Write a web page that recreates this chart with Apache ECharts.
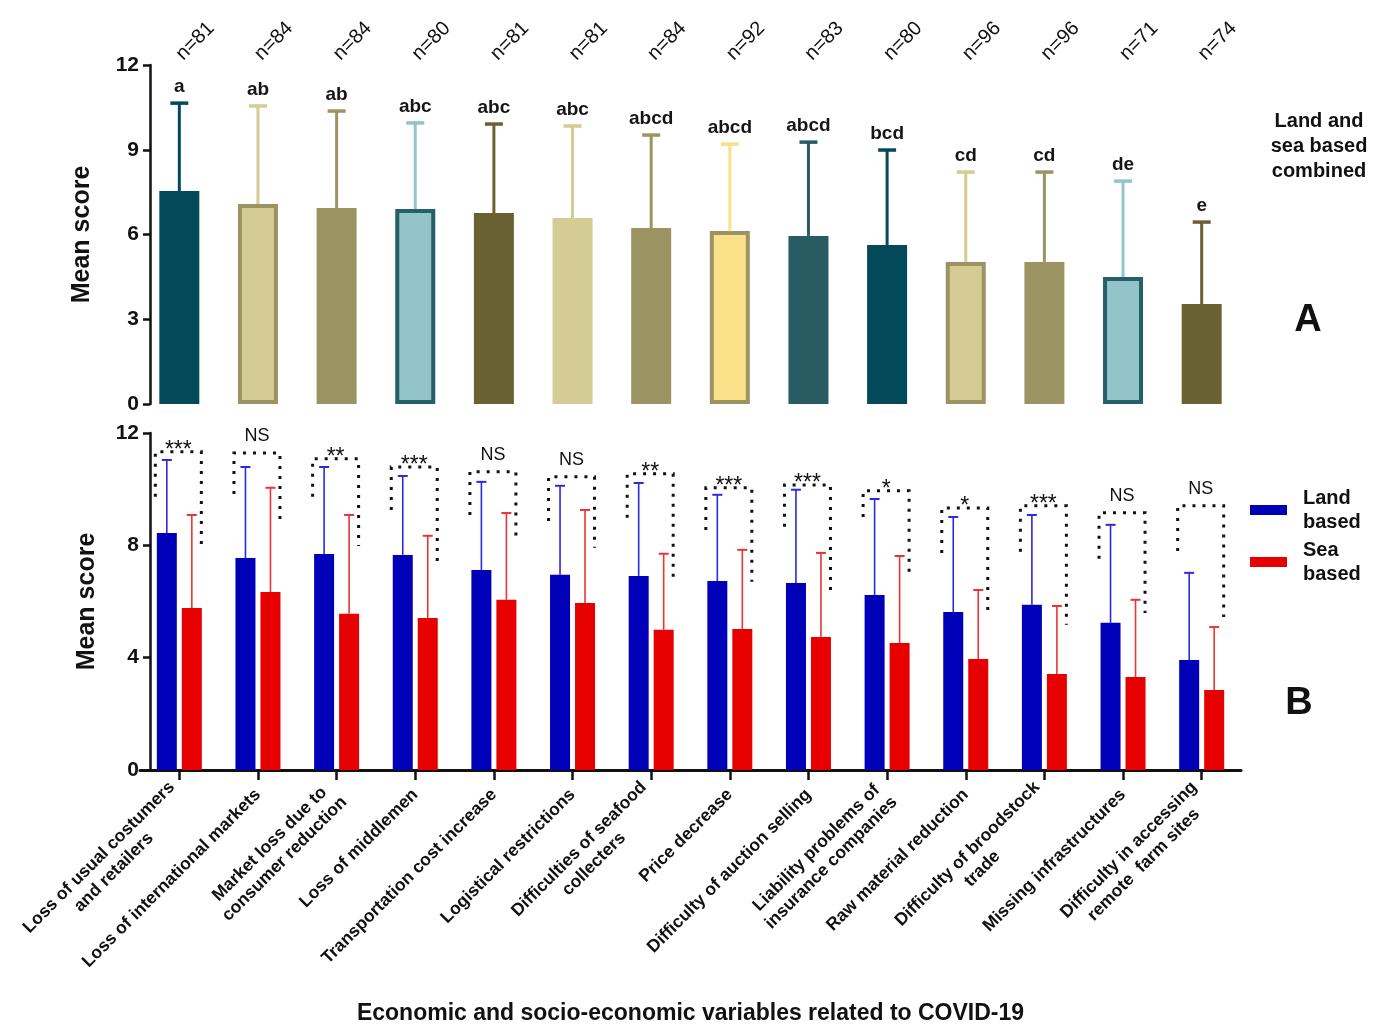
<!DOCTYPE html>
<html><head><meta charset="utf-8">
<script src="https://cdn.jsdelivr.net/npm/echarts@6/dist/echarts.min.js"></script>
<style>html,body{margin:0;padding:0;background:#fff}#c{width:1378px;height:1027px}</style>
</head><body><div id="c"></div>
<script>
// ---------- DATA ----------
const categories = [
  'Loss of usual costumers\nand retailers',
  'Loss of international markets',
  'Market loss due to\nconsumer reduction',
  'Loss of middlemen',
  'Transportation cost increase',
  'Logistical restrictions',
  'Difficulties of seafood\ncollecters',
  'Price decrease',
  'Difficulty of auction selling',
  'Liability problems of\ninsurance companies',
  'Raw material reduction',
  'Difficulty of broodstock\ntrade',
  'Missing infrastructures',
  'Difficulty in accessing\nremote  farm sites'
];
const nSizes = [81, 84, 84, 80, 81, 81, 84, 92, 83, 80, 96, 96, 71, 74];
const combinedMean = [7.54, 7.08, 6.94, 6.90, 6.76, 6.58, 6.23, 6.12, 5.95, 5.63, 5.03, 5.03, 4.50, 3.54];
const combinedUpper = [10.65, 10.55, 10.37, 9.95, 9.91, 9.84, 9.52, 9.20, 9.27, 8.99, 8.21, 8.21, 7.89, 6.44];
const combinedLetters = ['a', 'ab', 'ab', 'abc', 'abc', 'abc', 'abcd', 'abcd', 'abcd', 'bcd', 'cd', 'cd', 'de', 'e'];
const landMean = [8.44, 7.55, 7.69, 7.66, 7.12, 6.95, 6.91, 6.73, 6.66, 6.23, 5.63, 5.88, 5.24, 3.92];
const landUpper = [11.04, 10.79, 10.79, 10.47, 10.26, 10.12, 10.22, 9.80, 9.98, 9.65, 9.01, 9.08, 8.73, 7.02];
const seaMean = [5.77, 6.34, 5.56, 5.41, 6.06, 5.95, 4.99, 5.02, 4.74, 4.52, 3.95, 3.42, 3.31, 2.85];
const seaUpper = [9.08, 10.05, 9.08, 8.34, 9.15, 9.26, 7.70, 7.84, 7.73, 7.62, 6.41, 5.84, 6.06, 5.09];
const significance = ['***', 'NS', '**', '***', 'NS', 'NS', '**', '***', '***', '*', '*', '***', 'NS', 'NS'];
const bracketTop = [11.33, 11.29, 11.08, 10.79, 10.62, 10.44, 10.55, 10.05, 10.15, 9.94, 9.33, 9.41, 9.16, 9.41];
const bracketLandEnd = [9.73, 9.83, 9.73, 9.26, 9.08, 8.87, 8.98, 8.55, 8.66, 9.01, 7.73, 7.77, 7.52, 7.80];
const bracketSeaEnd = [7.98, 8.87, 7.98, 7.23, 8.16, 7.91, 6.88, 6.70, 6.38, 7.02, 5.45, 5.17, 5.59, 5.45];

// ---------- STYLE ----------
const FONT = '"Liberation Sans", Arial, Helvetica, sans-serif';
const C = {
  tealDark: '#03495a', tealMid: '#285c62', khakiLight: '#d4cb95', khaki: '#9b9462',
  blueLight: '#92c4c9', olive: '#6a6133', yellow: '#fbe08a', tealBorder: '#23606a'
};
const barFill = [C.tealDark, C.khakiLight, C.khaki, C.blueLight, C.olive, C.khakiLight, C.khaki,
  C.yellow, C.tealMid, C.tealDark, C.khakiLight, C.khaki, C.blueLight, C.olive];
const barBorder = [null, C.khaki, null, C.tealBorder, null, null, null,
  C.khaki, null, null, C.khaki, null, C.tealBorder, null];
const LAND = '#0000b8', SEA = '#e60000';
const LAND_ERR = '#2a2ae0', SEA_ERR = '#e83535';
const BW = 20, GAPPX = 5, OFF = (BW + GAPPX) / 2;

const chart = echarts.init(document.getElementById('c'), null, {renderer: 'canvas'});

function yAxisCommon(grid, interval, gap) {
  return {
    type: 'value', gridIndex: grid, min: 0, max: 12, interval: interval, offset: -10,
    name: 'Mean score', nameLocation: 'middle', nameGap: gap,
    nameTextStyle: {fontFamily: FONT, fontWeight: 'bold', fontSize: 25, color: '#111'},
    axisLine: {show: true, lineStyle: {color: '#111', width: 2.5}},
    axisTick: {show: true, length: 7, lineStyle: {color: '#111', width: 2.5}},
    axisLabel: {fontFamily: FONT, fontWeight: 'bold', fontSize: 21, color: '#111', margin: 11},
    splitLine: {show: false}
  };
}

const option = {
  backgroundColor: '#fff',
  animation: false,
  grid: [
    {left: 140, right: 137, top: 65, height: 339},
    {left: 140, right: 137, top: 433, height: 337}
  ],
  title: [
    {text: 'Land and\nsea based\ncombined', left: 1314, top: 104, textAlign: 'center',
      textStyle: {fontFamily: FONT, fontWeight: 'bold', fontSize: 20, lineHeight: 25, color: '#111'}},
    {text: 'A', left: 1303, top: 297, textAlign: 'center',
      textStyle: {fontFamily: FONT, fontWeight: 'bold', fontSize: 38, color: '#111'}},
    {text: 'B', left: 1294, top: 680, textAlign: 'center',
      textStyle: {fontFamily: FONT, fontWeight: 'bold', fontSize: 38, color: '#111'}}
  ],
  legend: {
    data: ['Land based', 'Sea based'], orient: 'vertical', left: 1245, top: 481,
    itemWidth: 37, itemHeight: 10, itemGap: 4, icon: 'rect',
    formatter: n => n.replace(' ', '\n'),
    textStyle: {fontFamily: FONT, fontWeight: 'bold', fontSize: 20, lineHeight: 24, color: '#111', padding: [0, 0, 0, 11]}
  },
  xAxis: [
    {
      type: 'category', gridIndex: 0, data: categories, position: 'top',
      axisLine: {show: false}, axisTick: {show: false},
      axisLabel: {interval: 0, rotate: 45, margin: 8, fontFamily: FONT, fontSize: 20, color: '#111',
        formatter: (v, i) => 'n=' + nSizes[i]}
    },
    {
      type: 'category', gridIndex: 1, data: categories, position: 'bottom',
      axisLine: {show: true, lineStyle: {color: '#111', width: 3}},
      axisTick: {show: true, alignWithLabel: true, length: 10, lineStyle: {color: '#111', width: 2.5}},
      axisLabel: {interval: 0, rotate: 45, margin: 22, color: '#111',
        fontFamily: FONT, fontWeight: 'bold', fontSize: 17.5,
        formatter: v => v.split('\n').map(s => '{c|' + s + '}').join('\n'),
        rich: {c: {align: 'center', fontFamily: FONT, fontWeight: 'bold', fontSize: 17.5, lineHeight: 21, color: '#111'}}
      },
      name: 'Economic and socio-economic variables related to COVID-19',
      nameLocation: 'middle', nameGap: 232,
      nameTextStyle: {fontFamily: FONT, fontWeight: 'bold', fontSize: 23, color: '#111'}
    }
  ],
  yAxis: [yAxisCommon(0, 3, 55), yAxisCommon(1, 4, 50)],
  series: [
    {
      type: 'bar', xAxisIndex: 0, yAxisIndex: 0, barWidth: 40,
      data: combinedMean.map((v, i) => ({
        value: v,
        itemStyle: {color: barFill[i], borderColor: barBorder[i] || barFill[i], borderWidth: barBorder[i] ? 4 : 0}
      }))
    },
    {
      type: 'custom', xAxisIndex: 0, yAxisIndex: 0, z: 3,
      data: combinedMean.map((v, i) => [i, v, combinedUpper[i]]),
      renderItem: function (params, api) {
        const i = api.value(0);
        const base = api.coord([i, api.value(1)]);
        const top = api.coord([i, api.value(2)]);
        const col = barFill[i];
        return {type: 'group', children: [
          {type: 'line', shape: {x1: top[0], y1: base[1], x2: top[0], y2: top[1]}, style: {stroke: col, lineWidth: 3}},
          {type: 'line', shape: {x1: top[0] - 9, y1: top[1], x2: top[0] + 9, y2: top[1]}, style: {stroke: col, lineWidth: 3.5}},
          {type: 'text', style: {text: combinedLetters[i], x: top[0], y: top[1] - 7, align: 'center', verticalAlign: 'bottom',
            fontFamily: FONT, fontWeight: 'bold', fontSize: 19, fill: '#151515'}}
        ]};
      }
    },
    {
      name: 'Land based', type: 'bar', xAxisIndex: 1, yAxisIndex: 1, barWidth: BW, barGap: '25%',
      itemStyle: {color: LAND}, data: landMean
    },
    {
      name: 'Sea based', type: 'bar', xAxisIndex: 1, yAxisIndex: 1, barWidth: BW, barGap: '25%',
      itemStyle: {color: SEA}, data: seaMean
    },
    {
      type: 'custom', xAxisIndex: 1, yAxisIndex: 1, z: 3,
      data: landMean.map((v, i) => [i, v, landUpper[i], seaMean[i], seaUpper[i]]),
      renderItem: function (params, api) {
        const i = api.value(0);
        const cx = api.coord([i, 0])[0];
        const lb = api.coord([i, api.value(1)])[1], lt = api.coord([i, api.value(2)])[1];
        const sb = api.coord([i, api.value(3)])[1], st = api.coord([i, api.value(4)])[1];
        const lx = cx - OFF, sx = cx + OFF;
        return {type: 'group', children: [
          {type: 'line', shape: {x1: lx, y1: lb, x2: lx, y2: lt}, style: {stroke: LAND_ERR, lineWidth: 1.6}},
          {type: 'line', shape: {x1: lx - 5, y1: lt, x2: lx + 5, y2: lt}, style: {stroke: LAND_ERR, lineWidth: 2}},
          {type: 'line', shape: {x1: sx, y1: sb, x2: sx, y2: st}, style: {stroke: SEA_ERR, lineWidth: 1.6}},
          {type: 'line', shape: {x1: sx - 5, y1: st, x2: sx + 5, y2: st}, style: {stroke: SEA_ERR, lineWidth: 2}}
        ]};
      }
    },
    {
      type: 'custom', xAxisIndex: 1, yAxisIndex: 1, z: 4,
      data: bracketTop.map((v, i) => [i, v, bracketLandEnd[i], bracketSeaEnd[i]]),
      renderItem: function (params, api) {
        const i = api.value(0);
        const cx = api.coord([i, 0])[0];
        const ty = api.coord([i, api.value(1)])[1];
        const ly = api.coord([i, api.value(2)])[1];
        const sy = api.coord([i, api.value(3)])[1];
        const xl = cx - 24, xr = cx + 22;
        const sig = significance[i];
        const star = sig.indexOf('*') >= 0;
        return {type: 'group', children: [
          {type: 'polyline', shape: {points: [[xl, ly], [xl, ty], [xr, ty], [xr, sy]]},
            style: {stroke: '#111', lineWidth: 3, lineDash: [3, 7], fill: null}},
          {type: 'text', style: {text: sig, x: (xl + xr) / 2, y: star ? ty + 10 : ty - 8,
            align: 'center', verticalAlign: 'bottom', fontFamily: FONT,
            fontSize: star ? 23 : 18, fill: '#111'}}
        ]};
      }
    }
  ]
};
chart.setOption(option);
</script>
</body></html>
